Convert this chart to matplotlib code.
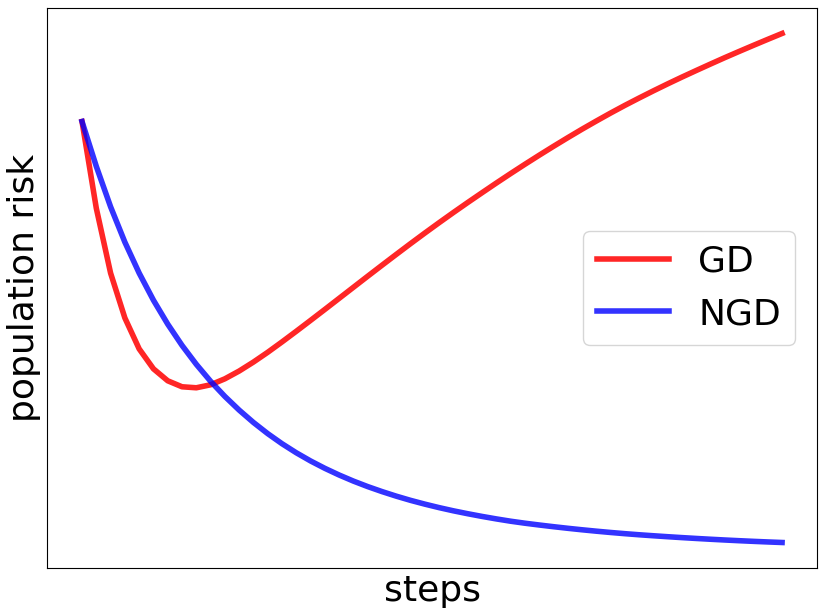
#population risk of GD vs NGD along the optimization steps

import matplotlib
matplotlib.use("Agg")
import matplotlib.pyplot as plt

# step index (50 iterates)
steps = list(range(50))

# population risk of gradient descent (arbitrary units)
gd_risk = [4.800, 3.930, 3.280, 2.830, 2.520, 2.320, 2.200, 2.140, 2.130, 2.160,
           2.220, 2.298, 2.388, 2.486, 2.590, 2.697, 2.806, 2.916, 3.027, 3.138,
           3.249, 3.359, 3.468, 3.576, 3.682, 3.786, 3.888, 3.988, 4.086, 4.183,
           4.278, 4.371, 4.462, 4.551, 4.638, 4.723, 4.805, 4.885, 4.962, 5.036,
           5.108, 5.178, 5.246, 5.312, 5.377, 5.441, 5.503, 5.564, 5.624, 5.683]

# population risk of natural gradient descent
ngd_risk = [4.800, 4.350, 3.945, 3.590, 3.280, 3.008, 2.768, 2.555, 2.365, 2.195,
            2.043, 1.906, 1.782, 1.670, 1.569, 1.478, 1.396, 1.322, 1.255, 1.194,
            1.139, 1.089, 1.043, 1.001, 0.963, 0.928, 0.896, 0.867, 0.840, 0.815,
            0.792, 0.772, 0.754, 0.737, 0.721, 0.706, 0.692, 0.679, 0.667, 0.656,
            0.646, 0.6365, 0.6275, 0.619, 0.611, 0.6035, 0.5965, 0.590, 0.584, 0.5785]

labels = ["GD", "NGD"]

plt.figure(figsize=(8.22, 6.16), dpi=100)
plt.subplots_adjust(left=0.0572, right=0.994, top=0.987, bottom=0.078)

plt.plot(steps, gd_risk, color="red", alpha=0.85, linewidth=4, label=labels[0])
plt.plot(steps, ngd_risk, color="blue", alpha=0.8, linewidth=4, label=labels[1])

# no ticks at all, only axis names
plt.xticks([])
plt.yticks([])
plt.xlabel("steps", fontsize=26)
plt.ylabel("population risk", fontsize=26)

plt.legend(loc="center right", fontsize=26, borderaxespad=0.6)

plt.savefig("out.png", dpi=100)
